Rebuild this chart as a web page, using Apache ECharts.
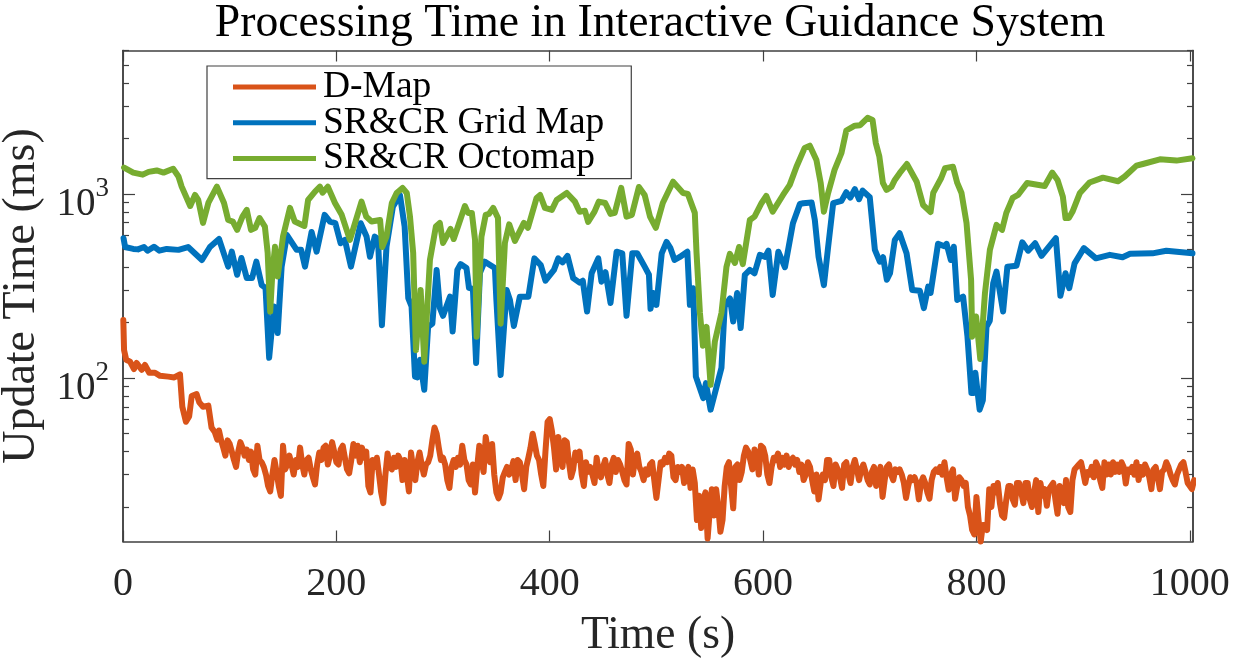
<!DOCTYPE html>
<html>
<head>
<meta charset="utf-8">
<title>Processing Time in Interactive Guidance System</title>
<script src="https://cdn.jsdelivr.net/npm/echarts@6/dist/echarts.min.js"></script>
<style>
html,body{margin:0;padding:0;background:#fff;}
#chart{width:1234px;height:662px;}
</style>
</head>
<body>
<div id="chart"></div>
<script>
var seriesNames = ['D-Map', 'SR&CR Grid Map', 'SR&CR Octomap'];
var xTicks = [0, 200, 400, 600, 800, 1000];
var yMajorTicks = [100, 1000];
var yMinorTicks = [20, 30, 40, 50, 60, 70, 80, 90, 200, 300, 400, 500, 600, 700, 800, 900, 2000, 3000, 4000, 5000, 6000];

var dmapTime = [0.3,1,3,6.6,10.3,12.8,17.5,20.6,24.6,30,34.7,42.5,48,53.4,55.6,59,62,64.4,69,71.5,75,80,83,86,88.4,
	90,92,94,96,98,100,102,104,106,108,110,112,114,116,118,120,122,124,126,128,130,132,134,136,138,140,142,144,146,148,150,152,154,156,158,160,162,164,166,168,170,172,174,176,178,180,182,184,186,188,
	190,192,194,196,198,200,202,204,206,208,210,212,214,216,218,220,222,224,226,228,230,232,234,236,238,240,242,244,246,248,250,252,254,256,258,260,262,264,266,268,270,272,274,276,278,280,282,284,286,288,
	290,292,294,296,298,300,302,304,306,308,310,312,314,316,318,320,322,324,326,328,330,332,334,336,338,340,342,344,346,348,350,352,354,356,358,360,362,364,366,368,370,372,374,376,378,380,382,384,386,388,
	390,392,394,396,398,400,402,404,406,408,410,412,414,416,418,420,422,424,426,428,430,432,434,436,438,440,442,444,446,448,450,452,454,456,458,460,462,464,466,468,470,472,474,476,478,480,482,484,486,488,
	490,492,494,496,498,500,502,504,506,508,510,512,514,516,518,520,522,524,526,528,530,532,534,536,538,540,542,544,546,548,550,552,554,556,558,560,562,564,566,568,570,572,574,576,578,580,582,584,586,588,
	590,592,594,596,598,600,602,604,606,608,610,612,614,616,618,620,622,624,626,628,630,632,634,636,638,640,642,644,646,648,650,652,654,656,658,660,662,664,666,668,670,672,674,676,678,680,682,684,686,688,
	690,692,694,696,698,700,702,704,706,708,710,712,714,716,718,720,722,724,726,728,730,732,734,736,738,740,742,744,746,748,750,752,754,756,758,760,762,764,766,768,770,772,774,776,778,780,782,784,786,788,
	790,792,794,796,798,800,802,804,806,808,810,812,814,816,818,820,822,824,826,828,830,832,834,836,838,840,842,844,846,848,850,852,854,856,858,860,862,864,866,868,870,872,874,876,878,880,882,884,886,888,
	890,892,894,896,898,900,902,904,906,908,910,912,914,916,918,920,922,924,926,928,930,932,934,936,938,940,942,944,946,948,950,952,954,956,958,960,962,964,966,968,970,972,974,976,978,980,982,984,986,988,
	990,992,994,996,998,1000,1002,1004];
var dmapMs = [207,142,126,123,112,121,111,118,107,107,103,102,101,105,70,58,62,80,82,74,70,71,54,51,46.4,
	52,46,42,38,46,44,40,36,33,40,45,42,38,41,36,40,32,30,43,36,35,33,30,26,24.3,30,36,31,26,23,43,32,34,38,34,30,36,33,42,34,30,36,37,32,29,26.5,34,39.5,36,42,
	43,34,38,45,40,35,34,41,43,37,32,30.5,36,44,38,43,35,42,37,40,26,24,36,33,37,30,24,21,30,39,33,32,37,33,38,36,28,36,30,24.3,39.5,32,28,35,39.5,34,30,34,35,38,
	46,54,50,42,36,37,34,28,25.4,33,36,33,37,34,43,36,34,28,26.5,34,24,33,43,36,31,48,40,35,44,30,24,22.3,24,29,31,33,30,32,35.5,28,36,35,30,25,33,37,42,50,44,38,
	36,30,26,40,58,60,52,42,32,48,38,33,46,45,35,29,32,39.5,36,40,30,26,35,31,33,30,27,37,31,29,33,36,30,27,34,37,31,36,34,31,28,26.5,44,41,30,37,39,33,31,28,
	32,30,34,35,28,22.4,28,35,34,37,35,39,38,29,28,33,31,33,27,31,33,25.4,32,27,17,23,15.4,22,24,13.5,19,25,18,25,20,14.7,17,26,33,35,26,19.7,33,34,28,31,38,42,40,36,
	32,41,38,30,43,42,38,30,27,33,37,36,39,33,37,34,38,33,36,37,34,36,31,34,28,30,35,33,28,24.3,30,22,27,30,28,36,36,29,26,34,32,29,25.4,34,35,30,27,33,36,32,
	28,32,34,31,28,26.5,31,33,26,30,33,22.7,28,33,34,30,28,32,31,32,30,27,22.4,26,29,28,29,27,22,27,29,27,24,22.2,28,31,32,31,33,30,35,29,24.8,30,32,22.2,26,29,28,26,
	27,20,18,15,14.2,22.7,17,13,16,16,15,25,20,26,24,27,21,18,17.5,22,26,26,22,20.6,27,27,24,21,27,27,22,20,24,28,18.8,27,23,25,20.3,25,26,27,22,18.4,26,24,21,28,20,18.8,
	28,32,33,34,35,31,27,31,30,33,29,35,33,28,25.4,35,30,34,30,35,31,34,31,35,33,26.8,32,31,33,30,35,28,33,30,34,32,29,25,32,33,29,25,31,32,35,33,30,28,26.5,30,
	32,34,35,31,27,26,25,28];

var gridTime = [0.5,2,9.6,14,19.7,23,29,34,41,52,61,74,81.5,90,98.6,102,107,111,116,121,125,130,133.6,137,141.5,145,148.7,153.7,162.8,167,170.6,176.8,181.5,189,194,199,204,208,213.7,222.8,228.3,231.5,236,239,242.7,247,253,259.6,264,267.4,270.5,273.7,276,278.4,282.4,286,290,294,297,300,306.5,309,313.4,316.4,322,324.3,328,331,334.6,339,348.6,350,354,359.6,362.7,366.4,372,380,385.6,391.6,396,404,408,412,416.7,422,428,431,435,439.3,445.5,448.5,452.3,457,462.7,468,472,477.4,482,489,493,494.5,497,500,505,509.5,513,517,522,529,531.4,534.5,537,543.9,546.4,550.8,556.4,561,564,569,572,575.7,579,582.9,587.6,592,597,602,605,609,614.3,620.5,628,634.5,637.6,645.5,648.5,652,657,661,665.7,673.5,678,681.8,686,690,693.3,700,704.8,709.4,712.5,716,719,723.5,728,734.5,739.8,747,750.7,754.8,757,764,770,772,776,778.8,782,787.5,791.6,795.3,797.5,799,803,806,809.4,812.5,815.7,818.8,825,829,837.5,843,848.5,855,861,874.5,878.7,883.5,887,892,900.7,912,925,937,944,965,978,1002.5];
var gridMs = [575,515,503,500,515,492,517,492,503,497,515,438,515,569,403,486,364,449,350,350,429,320,309,129,245,176,403,598,497,497,403,622,486,770,708,695,540,563,403,693,587,456,587,570,194,517,853,987,665,272,245,102,101,126,86.5,190,198,387,241,218,277,179,387,416,396,309,305,121,373,429,396,266,104,301,266,192,277,277,447,411,338,387,447,425,461,349,330,338,230,371,447,334,376,256,486,476,218,476,476,403,365,238,290,250,476,549,510,438,455,486,250,308,102,78,94,67.5,90,114,245,271,203,290,187,364,387,371,467,455,492,283,486,400,693,882,890,897,722,456,320,517,890,917,1021,955,1060,936,1042,959,497,429,453,342,371,563,612,476,301,298,240,314,290,536,520,536,438,517,266,277,168,83,83,107,67.5,76,190,205,327,379,230,403,407,546,492,540,461,575,280,371,308,420,508,447,467,453,473,476,492,476];

var octoTime = [1,9.6,18.5,24,31.6,38,47,52,55,63,67.5,70.5,75,80,88,94.7,98.6,103,107,112,116,120,124,128,133,135.6,138,140,142.5,145,150,156.5,161,170,173.5,180,184.6,187,192,198.7,205,212.7,223.6,228,233,241,243,247,252,256.5,262,266,269,272,274.6,279,282.4,287.7,293.3,297,300,307,310,314,320.5,323.4,327,330,331.5,336,340,343,347,351.5,354,358,362,367.4,375.8,379.6,387.7,391,395.5,402,406.5,416,423.6,428,433,436,442,446,452,457,461,467,472,477,483.6,489,494,499.5,506,515.6,525,529.5,536,537.6,540.8,543.6,547,550.8,554.8,561,565.7,568.9,573.6,577.5,581,587.6,592,598.6,603,609,618.7,625,631.3,639,643.8,650,654,657,661,667,673.5,678,686,691,698,702.6,705.7,709,712.3,715.7,720.4,723.5,728,734.8,744,750,757,759.5,767,770.6,778,782,786,790.7,795,796,799.7,803.6,808,812.6,818.8,824,828,834,839,847.5,864,871,876,881,883.5,886.6,890,897,906,918.6,932.7,939,950,956,972,987.5,1002.5];
var octoMs = [1390,1305,1272,1317,1340,1305,1370,1243,1095,860,987,927,696,893,1095,893,722,708,638,753,819,638,655,740,665,480,230,373,517,356,587,840,708,670,927,1030,1095,1016,1095,893,770,563,908,753,708,722,515,587,893,1012,1078,1012,753,480,142,301,123,438,665,696,542,645,569,665,860,789,789,563,168,587,770,779,840,740,198,542,684,556,696,655,951,987,840,819,927,1012,908,801,810,705,801,908,893,779,790,1078,753,770,1090,987,753,655,893,1165,1012,1000,789,480,226,150,190,92,158,226,403,473,422,515,416,722,753,893,975,801,987,1120,1405,1777,1826,1529,1147,801,1012,1350,1668,2208,2346,2360,2587,2521,1884,1594,1147,1051,1095,1191,1295,1453,1165,870,797,1012,1220,1380,1405,1147,1012,696,341,168,216,127,290,497,679,638,789,951,987,1147,1105,1305,1191,967,740,740,800,1012,1153,1225,1172,1242,1423,1453,1540,1516,1560];

function pairs(t, v){
	var arr = [];
	for(var i = 0; i < t.length; i++){
		arr.push([t[i], v[i]]);
	}
	return arr;
}

var axisColor = '#404040';
var serif = '"Liberation Serif","Times New Roman",serif';

function yAxisOf(position, tickValues, tickLen, showLabel){
	return {
		type: 'log',
		logBase: 10,
		min: 13,
		max: 6000,
		position: position,
		axisLine: {show: true, onZero: false, lineStyle: {color: axisColor, width: 1.5}},
		axisTick: {show: true, inside: true, length: tickLen, customValues: tickValues, lineStyle: {color: axisColor, width: 1.2}},
		axisLabel: showLabel ? {
			show: true,
			margin: 14,
			customValues: yMajorTicks,
			formatter: function(val){
				return '{b|10}{s|' + Math.round(Math.log(val) / Math.LN10) + '}';
			},
			rich: {
				b: {fontFamily: serif, fontSize: 39, color: '#262626', padding: [22, 0, 0, 0]},
				s: {fontFamily: serif, fontSize: 27, color: '#262626', padding: [0, 0, 10, 0]}
			}
		} : {show: false},
		splitLine: {show: false},
		minorTick: {show: false}
	};
}

function xAxisOf(position, showLabel){
	return {
		type: 'value',
		min: 0,
		max: 1003,
		position: position,
		axisLine: {show: true, onZero: false, lineStyle: {color: axisColor, width: 1.5}},
		axisTick: {show: true, inside: true, length: 11, customValues: xTicks, lineStyle: {color: axisColor, width: 1.2}},
		axisLabel: showLabel ? {
			show: true,
			margin: 23,
			customValues: xTicks,
			formatter: function(val){ return String(val); },
			fontFamily: serif,
			fontSize: 40,
			color: '#262626'
		} : {show: false},
		splitLine: {show: false}
	};
}

var myChart = echarts.init(document.getElementById('chart'), null, {renderer: 'canvas'});
myChart.setOption({
	animation: false,
	backgroundColor: '#fff',
	textStyle: {fontFamily: serif},
	title: {
		text: 'Processing Time in Interactive Guidance System',
		left: 655,
		top: -4,
		textAlign: 'center',
		textStyle: {fontFamily: serif, fontSize: 45.7, fontWeight: 'normal', color: '#000'}
	},
	grid: {left: 123, right: 41, top: 50.5, bottom: 120.5, containLabel: false, outerBoundsMode: 'none'},
	legend: {
		orient: 'vertical',
		left: 207,
		top: 66,
		data: seriesNames,
		icon: 'rect',
		itemWidth: 83,
		itemHeight: 5,
		itemGap: -2.2,
		padding: [2, 27, 1, 26],
		backgroundColor: '#fff',
		borderColor: axisColor,
		borderWidth: 1.2,
		borderRadius: 0,
		textStyle: {fontFamily: serif, fontSize: 37.5, color: '#000', lineHeight: 35.3, padding: [0, 0, 0, 2]}
	},
	xAxis: [
		Object.assign(xAxisOf('bottom', true), {
			name: 'Time (s)',
			nameLocation: 'middle',
			nameGap: 72,
			nameTextStyle: {fontFamily: serif, fontSize: 45.6, color: '#262626'}
		}),
		xAxisOf('top', false)
	],
	yAxis: [
		Object.assign(yAxisOf('left', yMajorTicks, 12, true), {
			name: 'Update Time (ms)',
			nameLocation: 'middle',
			nameGap: 78,
			nameRotate: 90,
			nameTextStyle: {fontFamily: serif, fontSize: 46, color: '#262626'}
		}),
		yAxisOf('left', yMinorTicks, 6, false),
		yAxisOf('right', yMajorTicks, 12, false),
		yAxisOf('right', yMinorTicks, 6, false)
	],
	series: [
		{
			name: seriesNames[0], type: 'line', showSymbol: false, clip: false, z: 3,
			itemStyle: {color: '#D95319'},
			lineStyle: {color: '#D95319', width: 6, join: 'round', cap: 'round'},
			data: pairs(dmapTime, dmapMs)
		},
		{
			name: seriesNames[1], type: 'line', showSymbol: false, clip: false, z: 4,
			itemStyle: {color: '#0072BD'},
			lineStyle: {color: '#0072BD', width: 6, join: 'round', cap: 'round'},
			data: pairs(gridTime, gridMs)
		},
		{
			name: seriesNames[2], type: 'line', showSymbol: false, clip: false, z: 5,
			itemStyle: {color: '#77AC30'},
			lineStyle: {color: '#77AC30', width: 6, join: 'round', cap: 'round'},
			data: pairs(octoTime, octoMs)
		}
	]
});
</script>
</body>
</html>
